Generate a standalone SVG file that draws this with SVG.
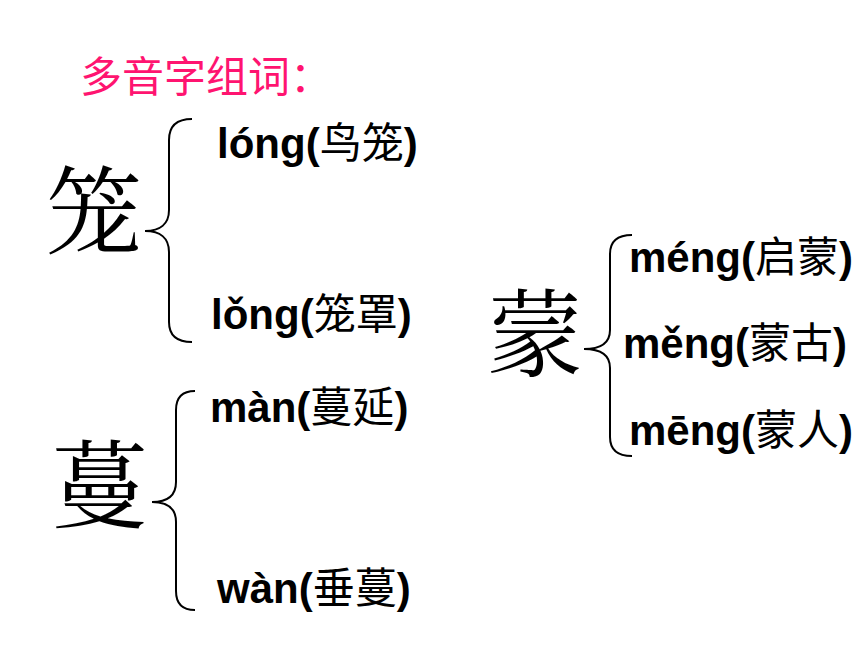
<svg xmlns="http://www.w3.org/2000/svg" width="860" height="645" viewBox="0 0 860 645">
<style>
.bg{fill:#ffffff}
.title{font-family:"Noto Sans CJK SC","Liberation Sans",sans-serif;font-size:42px;fill:#FF1470}
.big{font-family:"Noto Serif CJK SC","Noto Sans CJK SC",serif;font-size:96px;fill:#000;text-anchor:middle}
.lbl{font-family:"Liberation Sans","Noto Sans CJK SC",sans-serif;font-size:42px;font-weight:bold;fill:#000}
.cjk{font-family:"Noto Sans CJK SC",sans-serif;font-weight:normal}
.brace{fill:none;stroke:#000;stroke-width:2}
</style>
<rect class="bg" x="0" y="0" width="860" height="645"/>
<g id="title"><text class="title" x="80" y="92">多音字组词：</text></g>
<g id="connectors">
<path class="brace" d="M192,119 C177,119 169,126 169,140 L169,210 C169,224 160,231 145,231 C160,231 169,238 169,252 L169,322 C169,336 177,342 192,342"/>
<path class="brace" d="M195,391 C182,391 176,398 176,410 L176,482 C176,496 167,502 152,502 C167,502 176,508 176,522 L176,591 C176,603 182,610 195,610"/>
<path class="brace" d="M632,235 C617,235 610,242 610,254 L610,330 C610,343 600,349 584,349 C600,349 610,355 610,368 L610,437 C610,449 617,456 632,456"/>
</g>
<g id="node-long">
<text class="big" x="94" y="246">笼</text>
<text class="lbl" x="217" y="158">lóng(<tspan class="cjk">鸟笼</tspan>)</text>
<text class="lbl" x="211" y="329">lǒng(<tspan class="cjk">笼罩</tspan>)</text>
</g>
<g id="node-man">
<text class="big" x="100" y="520">蔓</text>
<text class="lbl" x="210" y="422">màn(<tspan class="cjk">蔓延</tspan>)</text>
<text class="lbl" x="217" y="603">wàn(<tspan class="cjk">垂蔓</tspan>)</text>
</g>
<g id="node-meng">
<text class="big" x="535" y="369">蒙</text>
<text class="lbl" x="629" y="272">méng(<tspan class="cjk">启蒙</tspan>)</text>
<text class="lbl" x="623" y="358">měng(<tspan class="cjk">蒙古</tspan>)</text>
<text class="lbl" x="629" y="445">mēng(<tspan class="cjk">蒙人</tspan>)</text>
</g>
</svg>
